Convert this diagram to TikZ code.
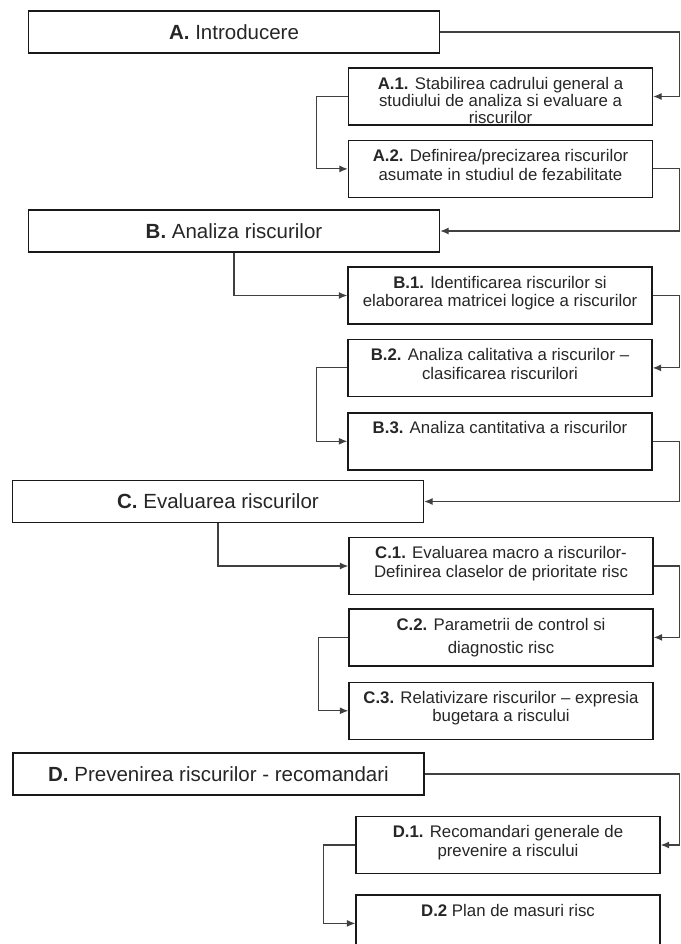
\documentclass[tikz,border=0pt]{standalone}
\usepackage{fontspec}
\setmainfont{Liberation Sans}
\usepackage{xcolor}
\colorlet{colorBox}{black!90}
\colorlet{colorLink}{black!75}
\colorlet{colorText}{black!85}
\usetikzlibrary{arrows.meta, positioning}
\newcommand{\boxtext}[1]{\parbox[c][57pt][t]{300pt}{\centering\vspace*{9pt}#1}}

\begin{document}
\begin{tikzpicture}[x=1pt, y=-1pt, >={Latex[length=8.5pt,width=7pt]}, line width=1.1pt,
  main/.style={draw=colorBox, line width=1.4pt, minimum width=411pt, minimum height=42pt, inner sep=0pt, text=colorText, font=\fontsize{20.5pt}{24pt}\selectfont},
  sub/.style={draw=colorBox, line width=1.4pt, minimum width=304pt, inner sep=0pt, text=colorText, font=\fontsize{16.8pt}{18.5pt}\selectfont},
  link/.style={->, colorLink, line width=1.1pt}]
\clip (0,0) rectangle (680,944);
\coordinate (edge) at (679.5,0);
\node[main] (a) at (234,32) {\textbf{A.} Introducere};
\node[sub] (a1) at (500.5,96.5) {\boxtext{\textbf{A.1.} Stabilirea cadrului general a\\[-1pt] studiului de analiza si evaluare a\\[-1.5pt] riscurilor}};
\node[sub, below=14pt of a1] (a2) {\boxtext{\textbf{A.2.} Definirea/precizarea riscurilor\\ asumate in studiul de fezabilitate}};
\node[main] (b) at (234,231) {\textbf{B.} Analiza riscurilor};
\node[sub] (b1) at (500,295.5) {\boxtext{\textbf{B.1.} Identificarea riscurilor si\\ elaborarea matricei logice a riscurilor}};
\node[sub, below=14pt of b1] (b2) {\boxtext{\textbf{B.2.} Analiza calitativa a riscurilor --\\ clasificarea riscurilori}};
\node[sub, below=15pt of b2] (b3) {\boxtext{\textbf{B.3.} Analiza cantitativa a riscurilor}};
\node[main] (c) at (218,501.5) {\textbf{C.} Evaluarea riscurilor};
\node[sub] (c1) at (501,566) {\boxtext{\textbf{C.1.} Evaluarea macro a riscurilor-\\ Definirea claselor de prioritate risc}};
\node[sub, below=13pt of c1] (c2) {\boxtext{\textbf{C.2.} Parametrii de control si\\[5pt] diagnostic risc}};
\node[sub, below=15pt of c2] (c3) {\boxtext{\textbf{C.3.} Relativizare riscurilor -- expresia\\ bugetara a riscului}};
\node[main] (d) at (218.5,774) {\textbf{D.} Prevenirea riscurilor - recomandari};
\node[sub] (d1) at (508,845) {\boxtext{\textbf{D.1.} Recomandari generale de\\ prevenire a riscului}};
\node[sub, below=20pt of d1] (d2) {\boxtext{\textbf{D.2} Plan de masuri risc}};
% right side
\draw[link] (a.east) -- (a.east -| edge) |- (a1.east);
\draw[link] (a2.east) -- (a2.east -| edge) |- (b.east);
\draw[link] (b1.east) -- (b1.east -| edge) |- (b2.east);
\draw[link] (b3.east) -- (b3.east -| edge) |- (c.east);
\draw[link] (c1.east) -- (c1.east -| edge) |- (c2.east);
\draw[link] (d.east) -- (d.east -| edge) |- (d1.east);
% left side
\draw[link] (a1.west) -- ++(-31,0) |- (a2.west);
\draw[link] (b.south) |- (b1.west);
\draw[link] (b2.west) -- ++(-31,0) |- (b3.west);
\draw[link] (c.south) |- (c1.west);
\draw[link] (c2.west) -- ++(-30,0) |- (c3.west);
\draw[link] (d1.west) -- ++(-32,0) |- (d2.west);
\end{tikzpicture}
\end{document}
